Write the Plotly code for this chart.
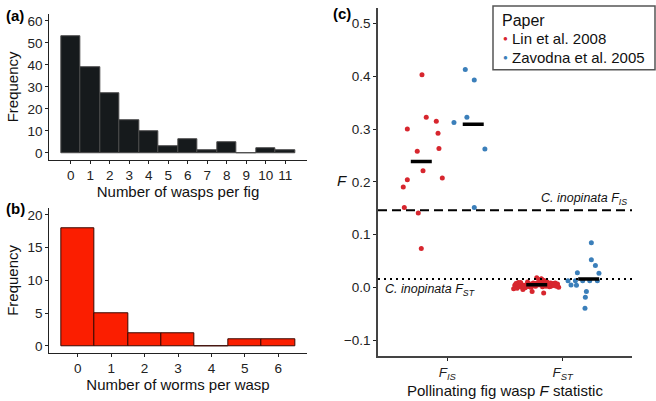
import numpy as np
import plotly.graph_objects as go

# (a) wasps per fig
wasp_counts = list(range(12))
wasp_freq = [53, 39, 27, 15, 10, 3, 6, 1, 5, 0, 2, 1]

# (b) worms per wasp
worm_counts = list(range(7))
worm_freq = [18, 5, 2, 2, 0, 1, 1]

# (c) F statistics, by paper
stat_names = ["F<sub>IS</sub>", "F<sub>ST</sub>"]
papers = ["Lin et al. 2008", "Zavodna et al. 2005"]
lin_fis = [0.403, 0.3225, 0.315, 0.300, 0.292, 0.258, 0.263, 0.221, 0.207, 0.204,
           0.190, 0.1515, 0.1407, 0.0733]
lin_fis_jit = [0.006, 0.043, 0.130, -0.121, 0.145, -0.035, 0.153, 0.015, 0.182, -0.121,
               -0.156, -0.147, -0.026, 0.000]
zav_fis = [0.413, 0.393, 0.3225, 0.3125, 0.262, 0.1515]
zav_fis_jit = [-0.069, 0.009, -0.055, -0.167, 0.101, 0.009]
lin_fst = [0.004, 0.006, 0.002, 0.008, 0.001, 0.005, 0.010, 0.003, -0.002, 0.007,
           0.012, 0.004, 0.000, 0.006, 0.009, 0.002, 0.005, 0.015, -0.004, 0.003,
           0.007, 0.001, 0.011, 0.004, 0.006, -0.001, 0.008, 0.002, 0.013, 0.005,
           0.003, 0.018, -0.008, 0.006, 0.004, 0.009, 0.001, 0.007, 0.002, 0.005,
           0.010, 0.000, 0.004, 0.014, 0.003, 0.006, -0.003, 0.008, 0.002, 0.005,
           0.016, 0.001, 0.004, -0.011, 0.007, 0.003, 0.009, 0.002, 0.006, 0.004]
lin_fst_jit = [-0.19, 0.05, -0.08, 0.12, -0.14, 0.02, 0.09, -0.03, -0.17, 0.15,
               0.07, -0.11, -0.05, 0.18, 0.01, -0.09, 0.11, 0.04, -0.12, -0.02,
               0.13, -0.06, 0.08, -0.15, 0.03, -0.10, 0.16, -0.01, 0.06, -0.13,
               0.10, 0.00, -0.04, -0.07, 0.14, -0.16, 0.05, -0.18, 0.12, 0.02,
               -0.08, 0.19, 0.09, 0.03, -0.11, 0.07, -0.20, -0.03, 0.17, -0.06,
               0.04, 0.11, -0.09, 0.06, -0.01, 0.13, -0.14, 0.08, -0.05, 0.15]
zav_fst = [0.0126, 0.0045, 0.0126, 0.0038, 0.0277, -0.008, -0.019, -0.040, 0.0843, 0.052,
           0.0415, 0.0264, 0.0126, 0.0126, 0.0126]
zav_fst_jit = [-0.179, -0.153, -0.115, -0.106, -0.098, -0.020, -0.029, -0.032, 0.023, 0.023,
               0.058, 0.089, 0.075, -0.052, 0.009]

# C. inopinata reference values
fis_ref = 0.146
fst_ref = 0.0158

RED = "#d7262e"
BLUE = "#3b7fba"
FONT = "Liberation Sans, Arial, sans-serif"
DODGE = 0.225
W, H = 656, 401

fig = go.Figure()

fig.add_trace(go.Bar(
    x=wasp_counts, y=wasp_freq, width=1, xaxis="x", yaxis="y",
    marker=dict(color="#161a1c", line=dict(color="#4a4a4a", width=1)),
    showlegend=False,
))
fig.add_trace(go.Bar(
    x=worm_counts, y=worm_freq, width=1, xaxis="x2", yaxis="y2",
    marker=dict(color="#fb1e00", line=dict(color="#3a0800", width=1)),
    showlegend=False,
))


def pos(center, jit):
    return [center + j for j in jit]


groups = [
    (papers[0], RED, [(1 - DODGE, lin_fis, lin_fis_jit), (2 - DODGE, lin_fst, lin_fst_jit)]),
    (papers[1], BLUE, [(1 + DODGE, zav_fis, zav_fis_jit), (2 + DODGE, zav_fst, zav_fst_jit)]),
]
for name, col, parts in groups:
    xs, ys = [], []
    for c, vals, jit in parts:
        xs += pos(c, jit)
        ys += vals
    fig.add_trace(go.Scatter(
        x=xs, y=ys, mode="markers", name=name, xaxis="x3", yaxis="y3",
        marker=dict(color=col, size=5), showlegend=False,
    ))

# group means as short black bars
mx, my = [], []
for name, col, parts in groups:
    for c, vals, jit in parts:
        mx.append(c)
        my.append(float(np.mean(vals)))
fig.add_trace(go.Scatter(
    x=mx, y=my, mode="markers", xaxis="x3", yaxis="y3", showlegend=False,
    marker=dict(symbol="line-ew-open", size=15, color="black", line=dict(color="black", width=3.5)),
))

fig.add_shape(type="line", xref="x3 domain", yref="y3", x0=0, x1=1, y0=fis_ref, y1=fis_ref,
              line=dict(color="black", width=2, dash="9px,5px"))
fig.add_shape(type="line", xref="x3 domain", yref="y3", x0=0, x1=1, y0=fst_ref, y1=fst_ref,
              line=dict(color="black", width=2, dash="2px,4px"))

tickfont = dict(family=FONT, size=13.5, color="#222")
titlefont = dict(family=FONT, size=15, color="#111")
axis_common = dict(showline=True, linewidth=1, linecolor="#222", ticks="outside", ticklen=3,
                   tickcolor="#222", showgrid=False, zeroline=False, tickfont=tickfont)
axis_c = {**axis_common, "linewidth": 1.5, "linecolor": "#444"}

fig.update_layout(
    width=W, height=H, autosize=False,
    margin=dict(l=0, r=0, t=0, b=0),
    paper_bgcolor="white", plot_bgcolor="white",
    font=dict(family=FONT, color="#111"),
    bargap=0, showlegend=False,
    xaxis=dict(domain=[0.0752, 0.4675], anchor="y", range=[-1.1, 12.1],
               tickvals=wasp_counts, title=dict(text="Number of wasps per fig", font=titlefont, standoff=0),
               **axis_common),
    yaxis=dict(domain=[0.6027, 0.9668], anchor="x", range=[-3, 63], tickvals=[0, 10, 20, 30, 40, 50, 60],
               title=dict(text="Frequency", font=titlefont, standoff=5), **axis_common),
    xaxis2=dict(domain=[0.0752, 0.4675], anchor="y2", range=[-0.85, 6.85],
                tickvals=worm_counts, title=dict(text="Number of worms per wasp", font=titlefont, standoff=0),
                **axis_common),
    yaxis2=dict(domain=[0.1190, 0.4805], anchor="x2", range=[-1, 21], tickvals=[0, 5, 10, 15, 20],
                title=dict(text="Frequency", font=titlefont, standoff=5), **axis_common),
    xaxis3=dict(domain=[0.5762, 0.9634], anchor="y3", range=[0.4, 2.6], tickvals=[1, 2],
                ticktext=["<i>" + s + "</i>" for s in stat_names],
                title=dict(text="Pollinating fig wasp <i>F</i> statistic", font=titlefont, standoff=0),
                **axis_c),
    yaxis3=dict(domain=[0.1107, 0.983], anchor="x3", range=[-0.13, 0.53],
                tickvals=[-0.1, 0, 0.1, 0.2, 0.3, 0.4, 0.5],
                ticktext=["\u22120.1", "0.0", "0.1", "0.2", "0.3", "0.4", "0.5"],
                **axis_c),
)


def paper_text(px, py, text, font, xanchor="center", yanchor="middle"):
    fig.add_annotation(xref="paper", yref="paper", x=px / W, y=1 - py / H,
                       xanchor=xanchor, yanchor=yanchor, showarrow=False, text=text, font=font)


# y title of (c)
paper_text(342, 180, "<i>F</i>", titlefont)

fig.add_annotation(xref="x3", yref="y3", x=2.57, y=fis_ref, xanchor="right", yanchor="bottom",
                   yshift=1, showarrow=False,
                   text="<i>C. inopinata F<sub>IS</sub></i>", font=dict(family=FONT, size=12.5, color="#111"))
fig.add_annotation(xref="x3", yref="y3", x=0.44, y=fst_ref, xanchor="left", yanchor="top",
                   yshift=-1, showarrow=False,
                   text="<i>C. inopinata F<sub>ST</sub></i>", font=dict(family=FONT, size=12.5, color="#111"))

# legend box for (c)
fig.add_shape(type="rect", xref="paper", yref="paper", x0=493 / W, x1=655 / W,
              y0=1 - 69 / H, y1=1 - 5 / H, line=dict(color="#555", width=1.5), fillcolor="white")
paper_text(500, 20, "Paper", dict(family=FONT, size=16, color="#111"), xanchor="left")
for i, (name, col) in enumerate(zip(papers, [RED, BLUE])):
    py = 38 + 19 * i
    paper_text(505, py, "\u25cf", dict(family=FONT, size=8, color=col))
    paper_text(510, py, name, dict(family=FONT, size=15, color="#111"), xanchor="left")

for label, px, py in [("(a)", 4, 15), ("(b)", 4, 209), ("(c)", 331, 13)]:
    paper_text(px, py, "<b>" + label + "</b>", dict(family=FONT, size=15, color="black"), xanchor="left")

fig.write_html("out.html", config={"displayModeBar": False},
               post_script="document.body.style.margin='0';")
